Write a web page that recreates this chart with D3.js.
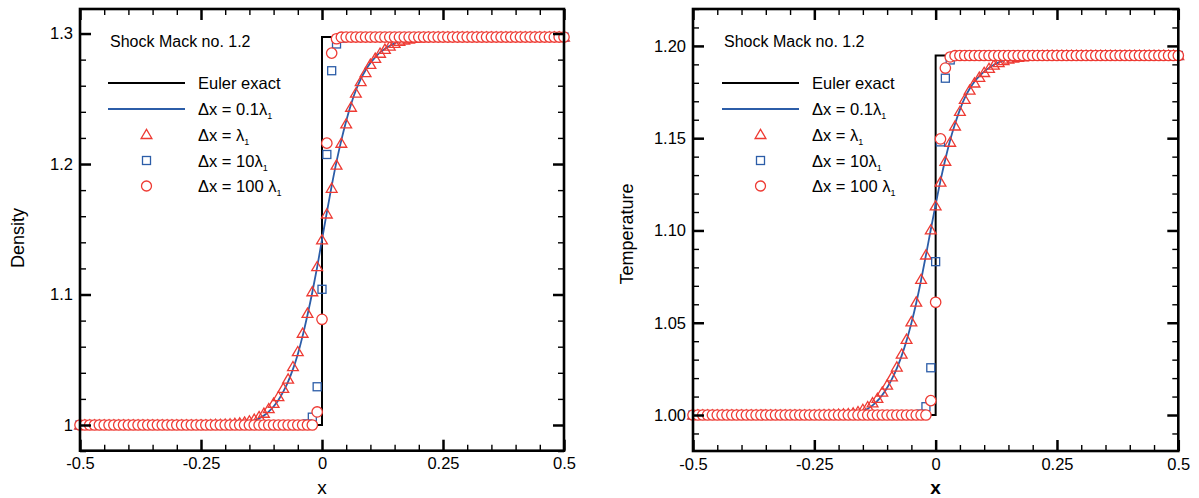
<!DOCTYPE html>
<html>
<head>
<meta charset="utf-8">
<script src="https://cdn.jsdelivr.net/npm/d3@7"></script>
<style>
  html, body { margin: 0; padding: 0; background: #fff; }
  svg { display: block; font-family: "Liberation Sans", Arial, Helvetica, sans-serif; }
</style>
</head>
<body>
<svg id="chart" width="1199" height="498"></svg>
<script>
// Grid positions of the computed solutions, x = -0.50 ... 0.50 in steps of 0.01
const xGrid = d3.range(101).map(i => +(-0.5 + i * 0.01).toFixed(2));

// Euler (Rankine-Hugoniot) jump, exact solution
const eulerX = [-0.5, 0, 0, 0.5];
const eulerRho = [1, 1, 1.2973, 1.2973];
const eulerT = [1, 1, 1.1948, 1.1948];

// Density profiles
const rhoFine = [ // dx = 0.1 lambda
  1,1,1,1,1,1,1,1,1,1, 1,1,1,1,1,1,1,1,1,1, 1,1,1,1,1,1,1,
  1.0001,1.0001,1.0002,1.0003,1.0005,1.0008,1.0012,1.0017,1.0024,1.0034,1.0050,1.0072,1.0103,1.0142,
  1.0192,1.0256,1.0333,1.0428,1.0543,1.0683,1.0843,1.1017,1.1210,1.1420,1.1630,1.1832,1.2018,1.2183,
  1.2330,1.2458,1.2565,1.2651,1.2719,1.2775,1.2818,1.2855,1.2884,1.2907,1.2925,1.2939,1.2949,1.2957,
  1.2962,1.2966,1.2969,1.2971,1.2972,
  1.2973,1.2973,1.2973,1.2973,1.2973,1.2973,1.2973,1.2973,1.2973,1.2973,1.2973,1.2973,1.2973,1.2973,
  1.2973,1.2973,1.2973,1.2973,1.2973,1.2973,1.2973,1.2973,1.2973,1.2973,1.2973,1.2973,1.2973
];
const rhoL1 = [ // dx = lambda
  1,1,1,1,1,1,1,1,1,1, 1,1,1,1,1,1,1,1,1,1, 1,1,1,1,1,
  1.0001,1.0001,1.0002,1.0003,1.0004,1.0005,1.0008,1.0011,1.0016,1.0022,1.0031,1.0044,1.0064,1.0090,
  1.0125,1.0166,1.0217,1.0281,1.0352,1.0447,1.0562,1.0703,1.0856,1.1021,1.1213,1.1418,1.1617,1.1814,
  1.1992,1.2159,1.2307,1.2435,1.2543,1.2631,1.2700,1.2764,1.2810,1.2849,1.2879,1.2904,1.2925,1.2940,
  1.2950,1.2958,1.2963,1.2967,1.2969,1.2971,1.2972,
  1.2973,1.2973,1.2973,1.2973,1.2973,1.2973,1.2973,1.2973,1.2973,1.2973,1.2973,1.2973,1.2973,1.2973,
  1.2973,1.2973,1.2973,1.2973,1.2973,1.2973,1.2973,1.2973,1.2973,1.2973,1.2973,1.2973,1.2973
];
const rhoL10 = [ // dx = 10 lambda
  1,1,1,1,1,1,1,1,1,1, 1,1,1,1,1,1,1,1,1,1, 1,1,1,1,1,1,1,1,1,1,
  1,1,1,1,1,1,1,1,1,1, 1,1,1,1,1,1,1,
  1.0008,1.0060,1.0293,1.1040,1.2073,1.2715,1.2920,1.2965,1.2971,
  1.2973,1.2973,1.2973,1.2973,1.2973,1.2973,1.2973,1.2973,1.2973,1.2973,1.2973,1.2973,1.2973,1.2973,1.2973,
  1.2973,1.2973,1.2973,1.2973,1.2973,1.2973,1.2973,1.2973,1.2973,1.2973,1.2973,1.2973,1.2973,1.2973,1.2973,
  1.2973,1.2973,1.2973,1.2973,1.2973,1.2973,1.2973,1.2973,1.2973,1.2973,1.2973,1.2973,1.2973,1.2973,1.2973
];
const rhoL100 = [ // dx = 100 lambda
  1,1,1,1,1,1,1,1,1,1, 1,1,1,1,1,1,1,1,1,1, 1,1,1,1,1,1,1,1,1,1,
  1,1,1,1,1,1,1,1,1,1, 1,1,1,1,1,1,1,1,1,
  1.0100,1.0810,1.2160,1.2850,1.2960,1.2972,
  1.2973,1.2973,1.2973,1.2973,1.2973,1.2973,1.2973,1.2973,1.2973,1.2973,1.2973,1.2973,1.2973,1.2973,1.2973,1.2973,
  1.2973,1.2973,1.2973,1.2973,1.2973,1.2973,1.2973,1.2973,1.2973,1.2973,1.2973,1.2973,1.2973,1.2973,1.2973,
  1.2973,1.2973,1.2973,1.2973,1.2973,1.2973,1.2973,1.2973,1.2973,1.2973,1.2973,1.2973,1.2973,1.2973,1.2973
];

// Temperature profiles
const tFine = [ // dx = 0.1 lambda
  1,1,1,1,1,1,1,1,1,1, 1,1,1,1,1,1,1,1,1,1, 1,1,1,1,1,1,1,1,
  1.0001,1.0002,1.0003,1.0004,1.0006,1.0009,1.0014,1.0022,1.0034,1.0052,1.0076,1.0108,1.0148,1.0196,
  1.0253,1.0322,1.0403,1.0498,1.0607,1.0731,1.0866,1.1005,1.1140,1.1270,1.1386,1.1490,1.1578,1.1655,
  1.1718,1.1768,1.1806,1.1836,1.1861,1.1881,1.1898,1.1911,1.1921,1.1929,1.1935,1.1939,1.1942,1.1944,
  1.1945,1.1946,1.1947,
  1.1948,1.1948,1.1948,1.1948,1.1948,1.1948,1.1948,1.1948,1.1948,1.1948,1.1948,1.1948,1.1948,1.1948,
  1.1948,1.1948,1.1948,1.1948,1.1948,1.1948,1.1948,1.1948,1.1948,1.1948,1.1948,1.1948,1.1948,1.1948
];
const tL1 = [ // dx = lambda
  1,1,1,1,1,1,1,1,1,1, 1,1,1,1,1,1,1,1,1,1, 1,1,1,1,1,1,
  1.0001,1.0001,1.0002,1.0003,1.0004,1.0005,1.0007,1.0011,1.0018,1.0030,1.0045,1.0066,1.0090,1.0124,
  1.0162,1.0207,1.0260,1.0330,1.0410,1.0505,1.0612,1.0735,1.0867,1.1003,1.1133,1.1262,1.1375,1.1478,
  1.1566,1.1645,1.1710,1.1760,1.1799,1.1830,1.1856,1.1878,1.1896,1.1909,1.1920,1.1928,1.1934,1.1938,
  1.1941,1.1943,1.1945,1.1946,1.1947,
  1.1948,1.1948,1.1948,1.1948,1.1948,1.1948,1.1948,1.1948,1.1948,1.1948,1.1948,1.1948,1.1948,1.1948,
  1.1948,1.1948,1.1948,1.1948,1.1948,1.1948,1.1948,1.1948,1.1948,1.1948,1.1948,1.1948,1.1948,1.1948
];
const tL10 = [ // dx = 10 lambda
  1,1,1,1,1,1,1,1,1,1, 1,1,1,1,1,1,1,1,1,1, 1,1,1,1,1,1,1,1,1,1,
  1,1,1,1,1,1,1,1,1,1, 1,1,1,1,1,1,1,
  1.0005,1.0045,1.0256,1.0831,1.1480,1.1825,1.1924,1.1944,1.1947,
  1.1948,1.1948,1.1948,1.1948,1.1948,1.1948,1.1948,1.1948,1.1948,1.1948,1.1948,1.1948,1.1948,1.1948,1.1948,
  1.1948,1.1948,1.1948,1.1948,1.1948,1.1948,1.1948,1.1948,1.1948,1.1948,1.1948,1.1948,1.1948,1.1948,1.1948,
  1.1948,1.1948,1.1948,1.1948,1.1948,1.1948,1.1948,1.1948,1.1948,1.1948,1.1948,1.1948,1.1948,1.1948,1.1948
];
const tL100 = [ // dx = 100 lambda
  1,1,1,1,1,1,1,1,1,1, 1,1,1,1,1,1,1,1,1,1, 1,1,1,1,1,1,1,1,1,1,
  1,1,1,1,1,1,1,1,1,1, 1,1,1,1,1,1,1,1,1,
  1.0078,1.0611,1.1496,1.1880,1.1940,1.1947,
  1.1948,1.1948,1.1948,1.1948,1.1948,1.1948,1.1948,1.1948,1.1948,1.1948,1.1948,1.1948,1.1948,1.1948,1.1948,1.1948,
  1.1948,1.1948,1.1948,1.1948,1.1948,1.1948,1.1948,1.1948,1.1948,1.1948,1.1948,1.1948,1.1948,1.1948,1.1948,
  1.1948,1.1948,1.1948,1.1948,1.1948,1.1948,1.1948,1.1948,1.1948,1.1948,1.1948,1.1948,1.1948,1.1948,1.1948
];

// Axis ticks
const xMajor = [-0.5, -0.25, 0, 0.25, 0.5];
const xMajorLabels = ["-0.5", "-0.25", "0", "0.25", "0.5"];
const rhoMajor = [1, 1.1, 1.2, 1.3];
const rhoMajorLabels = ["1", "1.1", "1.2", "1.3"];
const tMajor = [1.00, 1.05, 1.10, 1.15, 1.20];
const tMajorLabels = ["1.00", "1.05", "1.10", "1.15", "1.20"];

const titleText = "Shock Mack no. 1.2";
const legendLabels = [
  ["Euler exact", ""],
  ["\u0394x = 0.1\u03BB", "1"],
  ["\u0394x = \u03BB", "1"],
  ["\u0394x = 10\u03BB", "1"],
  ["\u0394x = 100 \u03BB", "1"]
];

const RED = "#ee3a33";
const BLUE = "#2c5da8";

const svg = d3.select("#chart");

function minorTicks(lo, hi, step, majors) {
  const out = [];
  const n = Math.round((hi - lo) / step);
  for (let i = 0; i <= n; i++) {
    const v = +(lo + i * step).toFixed(4);
    if (!majors.some(m => Math.abs(m - v) < 1e-6)) out.push(v);
  }
  return out;
}

const triPath = "M0,-5.2L5.4,4L-5.4,4Z";

function drawPanel(cfg) {
  const g = svg.append("g");
  const x = d3.scaleLinear().domain([-0.5, 0.5]).range([cfg.left, cfg.right]);
  const y = d3.scaleLinear().domain(cfg.yDomain).range([cfg.bottom, cfg.top]);

  const xMinor = minorTicks(-0.5, 0.5, 0.05, xMajor);
  const yMinor = minorTicks(cfg.yMinorLo, cfg.yMinorHi, cfg.yMinorStep, cfg.yMajor);

  const clip = "clip-" + cfg.id;
  svg.append("clipPath").attr("id", clip)
    .append("rect").attr("x", cfg.left).attr("y", cfg.top)
    .attr("width", cfg.right - cfg.left).attr("height", cfg.bottom - cfg.top);

  const lines = g.append("g").attr("clip-path", `url(#${clip})`);
  const marks = g.append("g");

  // Euler exact solution
  const eu = eulerX.map((v, i) => [v, cfg.euler[i]]);
  lines.append("path")
    .attr("d", d3.line().x(d => x(d[0])).y(d => y(d[1]))(eu))
    .attr("fill", "none").attr("stroke", "#000").attr("stroke-width", 2);

  // Finest grid solution
  const fine = xGrid.map((v, i) => [v, cfg.fine[i]]);
  lines.append("path")
    .attr("d", d3.line().curve(d3.curveMonotoneX).x(d => x(d[0])).y(d => y(d[1]))(fine))
    .attr("fill", "none").attr("stroke", BLUE).attr("stroke-width", 1.8);

  // dx = lambda : triangles
  marks.append("g").selectAll("path").data(xGrid.map((v, i) => [v, cfg.l1[i]]))
    .join("path").attr("d", triPath)
    .attr("transform", d => `translate(${x(d[0])},${y(d[1])})`)
    .attr("fill", "none").attr("stroke", RED).attr("stroke-width", 1.3);

  // dx = 10 lambda : squares
  marks.append("g").selectAll("rect").data(xGrid.map((v, i) => [v, cfg.l10[i]]))
    .join("rect")
    .attr("x", d => x(d[0]) - 4).attr("y", d => y(d[1]) - 4)
    .attr("width", 8).attr("height", 8)
    .attr("fill", "none").attr("stroke", BLUE).attr("stroke-width", 1.3);

  // dx = 100 lambda : circles
  marks.append("g").selectAll("circle").data(xGrid.map((v, i) => [v, cfg.l100[i]]))
    .join("circle")
    .attr("cx", d => x(d[0])).attr("cy", d => y(d[1])).attr("r", 5.2)
    .attr("fill", "#fff").attr("stroke", RED).attr("stroke-width", 1.3);

  // Axes (ticks point inward)
  function styleAxis(sel, width) {
    sel.select(".domain").remove();
    sel.selectAll(".tick line").attr("stroke", "#000").attr("stroke-width", width);
    sel.selectAll("text").attr("fill", "#000").attr("font-size", 16.5)
      .attr("font-family", "'Liberation Sans', Arial, sans-serif");
  }
  const maj = 11, mnr = 6;

  styleAxis(g.append("g").attr("transform", `translate(0,${cfg.bottom})`)
    .call(d3.axisBottom(x).tickValues(xMajor).tickSize(-maj).tickPadding(7)
      .tickFormat((d, i) => xMajorLabels[i])), 2.5);
  styleAxis(g.append("g").attr("transform", `translate(0,${cfg.bottom})`)
    .call(d3.axisBottom(x).tickValues(xMinor).tickSize(-mnr).tickFormat("")), 1.4);
  styleAxis(g.append("g").attr("transform", `translate(0,${cfg.top})`)
    .call(d3.axisTop(x).tickValues(xMajor).tickSize(-maj).tickFormat("")), 2.5);
  styleAxis(g.append("g").attr("transform", `translate(0,${cfg.top})`)
    .call(d3.axisTop(x).tickValues(xMinor).tickSize(-mnr).tickFormat("")), 1.4);

  styleAxis(g.append("g").attr("transform", `translate(${cfg.left},0)`)
    .call(d3.axisLeft(y).tickValues(cfg.yMajor).tickSize(-maj).tickPadding(7)
      .tickFormat((d, i) => cfg.yLabels[i])), 2.5);
  styleAxis(g.append("g").attr("transform", `translate(${cfg.left},0)`)
    .call(d3.axisLeft(y).tickValues(yMinor).tickSize(-mnr).tickFormat("")), 1.4);
  styleAxis(g.append("g").attr("transform", `translate(${cfg.right},0)`)
    .call(d3.axisRight(y).tickValues(cfg.yMajor).tickSize(-maj).tickFormat("")), 2.5);
  styleAxis(g.append("g").attr("transform", `translate(${cfg.right},0)`)
    .call(d3.axisRight(y).tickValues(yMinor).tickSize(-mnr).tickFormat("")), 1.4);

  // Frame
  g.append("rect")
    .attr("x", cfg.left).attr("y", cfg.top)
    .attr("width", cfg.right - cfg.left).attr("height", cfg.bottom - cfg.top)
    .attr("fill", "none").attr("stroke", "#000").attr("stroke-width", 2.6);

  // Axis titles
  g.append("text")
    .attr("x", (cfg.left + cfg.right) / 2).attr("y", 494)
    .attr("text-anchor", "middle").attr("font-size", 19)
    .attr("font-weight", cfg.boldX ? "bold" : "normal")
    .text("x");
  g.append("text")
    .attr("transform", `translate(${cfg.yTitleX},${cfg.yTitleY}) rotate(-90)`)
    .attr("text-anchor", "middle").attr("font-size", 18)
    .text(cfg.yTitle);

  // Legend
  const lg = g.append("g");
  lg.append("text").attr("x", cfg.legX0 + 2).attr("y", 47)
    .attr("font-size", 16).text(titleText);
  const rowY = [83, 109, 134.5, 160.5, 186];
  lg.append("line").attr("x1", cfg.legX0).attr("x2", cfg.legX0 + 77)
    .attr("y1", rowY[0]).attr("y2", rowY[0]).attr("stroke", "#000").attr("stroke-width", 2);
  lg.append("line").attr("x1", cfg.legX0).attr("x2", cfg.legX0 + 77)
    .attr("y1", rowY[1]).attr("y2", rowY[1]).attr("stroke", BLUE).attr("stroke-width", 1.8);
  const mx = cfg.legX0 + 38.5;
  lg.append("path").attr("d", triPath).attr("transform", `translate(${mx},${rowY[2]})`)
    .attr("fill", "none").attr("stroke", RED).attr("stroke-width", 1.3);
  lg.append("rect").attr("x", mx - 4).attr("y", rowY[3] - 4).attr("width", 8).attr("height", 8)
    .attr("fill", "none").attr("stroke", BLUE).attr("stroke-width", 1.3);
  lg.append("circle").attr("cx", mx).attr("cy", rowY[4]).attr("r", 5)
    .attr("fill", "#fff").attr("stroke", RED).attr("stroke-width", 1.3);

  legendLabels.forEach((lab, i) => {
    const t = lg.append("text").attr("x", cfg.legX0 + 90).attr("y", rowY[i] + 6)
      .attr("font-size", 16.5);
    t.append("tspan").text(lab[0]);
    if (lab[1]) t.append("tspan").attr("dy", 4).attr("font-size", 9).text(lab[1]);
  });
}

drawPanel({
  id: "rho", left: 80, right: 564, top: 9, bottom: 450.7,
  yDomain: [0.9803, 1.3188], yMajor: rhoMajor, yLabels: rhoMajorLabels,
  yMinorLo: 0.98, yMinorHi: 1.3, yMinorStep: 0.02,
  euler: eulerRho, fine: rhoFine, l1: rhoL1, l10: rhoL10, l100: rhoL100,
  yTitle: "Density", yTitleX: 24, yTitleY: 238, boldX: false, legX0: 108
});

drawPanel({
  id: "temp", left: 693, right: 1178.3, top: 9, bottom: 451,
  yDomain: [0.9805, 1.22], yMajor: tMajor, yLabels: tMajorLabels,
  yMinorLo: 0.99, yMinorHi: 1.22, yMinorStep: 0.01,
  euler: eulerT, fine: tFine, l1: tL1, l10: tL10, l100: tL100,
  yTitle: "Temperature", yTitleX: 633, yTitleY: 234, boldX: true, legX0: 722
});
</script>
</body>
</html>
